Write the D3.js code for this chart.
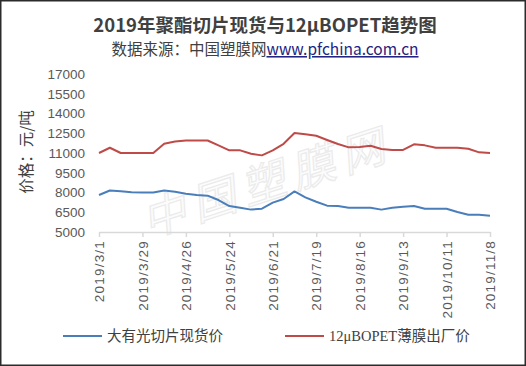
<!DOCTYPE html>
<html>
<head>
<meta charset="utf-8">
<script src="https://cdn.jsdelivr.net/npm/d3@7"></script>
<style>
  body { margin: 0; background: #fff; }
  svg { display: block; }
</style>
</head>
<body>
<div id="chart"></div>
<script>
// chart size
const width = 526, height = 366;

// weekly dates (category axis)
const dates = [
  "2019-03-01","2019-03-08","2019-03-15","2019-03-22","2019-03-29","2019-04-05","2019-04-12",
  "2019-04-19","2019-04-26","2019-05-03","2019-05-10","2019-05-17","2019-05-24","2019-05-31",
  "2019-06-07","2019-06-14","2019-06-21","2019-06-28","2019-07-05","2019-07-12","2019-07-19",
  "2019-07-26","2019-08-02","2019-08-09","2019-08-16","2019-08-23","2019-08-30","2019-09-06",
  "2019-09-13","2019-09-20","2019-09-27","2019-10-04","2019-10-11","2019-10-18","2019-10-25",
  "2019-11-01","2019-11-08"
];

// 大有光切片现货价
const chipPrice = [
  7810, 8150, 8090, 8010, 8000, 8000, 8150, 8060, 7910, 7810, 7760, 7430, 6970,
  6850, 6700, 6770, 7230, 7510, 8080, 7630, 7300, 7000, 6970, 6850, 6850, 6850,
  6700, 6850, 6920, 6980, 6770, 6770, 6770, 6520, 6310, 6310, 6240
];

// 12μBOPET薄膜出厂价
const filmPrice = [
  11000, 11400, 11000, 11000, 11000, 11000, 11700, 11870, 11950, 11950, 11950, 11580, 11200,
  11200, 10940, 10820, 11200, 11700, 12520, 12420, 12310, 11990, 11680, 11430, 11450, 11550,
  11300, 11230, 11230, 11660, 11580, 11400, 11400, 11400, 11320, 11050, 11000
];

const seriesNames = ["大有光切片现货价", "12μBOPET薄膜出厂价"];
const seriesColors = ["#4a7ebb", "#be4b48"];

// tick labels
const xTickLabels = ["2019/3/1","2019/3/29","2019/4/26","2019/5/24","2019/6/21",
                     "2019/7/19","2019/8/16","2019/9/13","2019/10/11","2019/11/8"];
const yTicks = [5000, 6500, 8000, 9500, 11000, 12500, 14000, 15500, 17000];

const parse = d3.timeParse("%Y-%m-%d");
const parseLabel = d3.timeParse("%Y/%m/%d");
const cjk = "'Noto Sans CJK SC', 'Noto Sans', sans-serif";

const svg = d3.select("#chart").append("svg")
    .attr("width", width)
    .attr("height", height);

svg.append("rect")
    .attr("x", 0.75).attr("y", 0.75)
    .attr("width", width - 1.5).attr("height", height - 1.5)
    .attr("fill", "#fff")
    .attr("stroke", "#2b2b2b")
    .attr("stroke-width", 1.5);

// scales
const x = d3.scaleTime()
    .domain([parse(dates[0]), parse(dates[dates.length - 1])])
    .range([99, 490]);

const y = d3.scaleLinear()
    .domain([5000, 17000])
    .range([232, 74]);

// watermark
svg.append("text")
    .attr("transform", "translate(268,186) rotate(-18)")
    .attr("text-anchor", "middle")
    .attr("dominant-baseline", "middle")
    .style("font-family", cjk)
    .style("font-size", "44px")
    .style("font-style", "italic")
    .style("letter-spacing", "8px")
    .attr("fill", "#fcfcfc")
    .attr("stroke", "#ebebeb")
    .attr("stroke-width", 1.2)
    .text("中国塑膜网");

// title
svg.append("text")
    .attr("x", 265).attr("y", 32)
    .attr("text-anchor", "middle")
    .style("font-family", cjk)
    .style("font-size", "18.5px")
    .style("font-weight", "bold")
    .attr("fill", "#404040")
    .text("2019年聚酯切片现货与12μBOPET趋势图");

const sub = svg.append("text")
    .attr("x", 265).attr("y", 55)
    .attr("text-anchor", "middle")
    .style("font-family", cjk)
    .style("font-size", "15.5px")
    .attr("fill", "#404040");
sub.append("tspan").text("数据来源：中国塑膜网");
sub.append("tspan")
    .attr("fill", "#232382")
    .style("text-decoration", "underline")
    .text("www.pfchina.com.cn");

// y axis
const yAxis = svg.append("g")
    .attr("transform", "translate(99,0)")
    .call(d3.axisLeft(y).tickValues(yTicks).tickSize(0).tickPadding(14).tickFormat(d3.format("d")));
yAxis.select(".domain").remove();
yAxis.selectAll("text")
    .style("font-family", "'Liberation Sans', Arial, sans-serif")
    .style("font-size", "13.5px")
    .attr("fill", "#595959");

svg.append("text")
    .attr("transform", "translate(28,152) rotate(-90)")
    .attr("text-anchor", "middle")
    .attr("dominant-baseline", "middle")
    .style("font-family", cjk)
    .style("font-size", "15.5px")
    .attr("fill", "#404040")
    .text("价格：元/吨");

// x axis
const xAxis = svg.append("g")
    .attr("transform", "translate(0,232)")
    .call(d3.axisBottom(x)
        .tickValues(xTickLabels.map(parseLabel))
        .tickSize(5)
        .tickSizeOuter(0)
        .tickFormat((d, i) => xTickLabels[i]));
xAxis.select(".domain").attr("stroke", "#d9d9d9").attr("stroke-width", 1.5);
xAxis.selectAll(".tick line").attr("stroke", "#d9d9d9").attr("stroke-width", 1.5);
xAxis.selectAll("text")
    .attr("transform", "rotate(-90)")
    .attr("x", -8).attr("y", 0).attr("dy", "0.35em")
    .attr("text-anchor", "end")
    .style("font-family", "'Liberation Sans', Arial, sans-serif")
    .style("font-size", "13.5px")
    .style("letter-spacing", "1.2px")
    .attr("fill", "#595959");

// lines
const line = d3.line()
    .x((d, i) => x(parse(dates[i])))
    .y(d => y(d));

[chipPrice, filmPrice].forEach((s, k) => {
    svg.append("path")
        .datum(s)
        .attr("d", line)
        .attr("fill", "none")
        .attr("stroke", seriesColors[k])
        .attr("stroke-width", 2)
        .attr("stroke-linejoin", "round");
});

// legend
const legendX = [63, 285];
seriesNames.forEach((name, k) => {
    const g = svg.append("g").attr("transform", `translate(${legendX[k]},336)`);
    g.append("line")
        .attr("x1", 0).attr("x2", 39)
        .attr("stroke", seriesColors[k])
        .attr("stroke-width", 2);
    const t = g.append("text")
        .attr("x", 44).attr("dy", "0.35em")
        .style("font-family", cjk)
        .style("font-size", "14.5px")
        .attr("fill", "#404040");
    if (k === 1) {
        t.append("tspan").style("font-family", "'Liberation Serif', serif").text("12μBOPET");
        t.append("tspan").text("薄膜出厂价");
    } else {
        t.text(name);
    }
});
</script>
</body>
</html>
